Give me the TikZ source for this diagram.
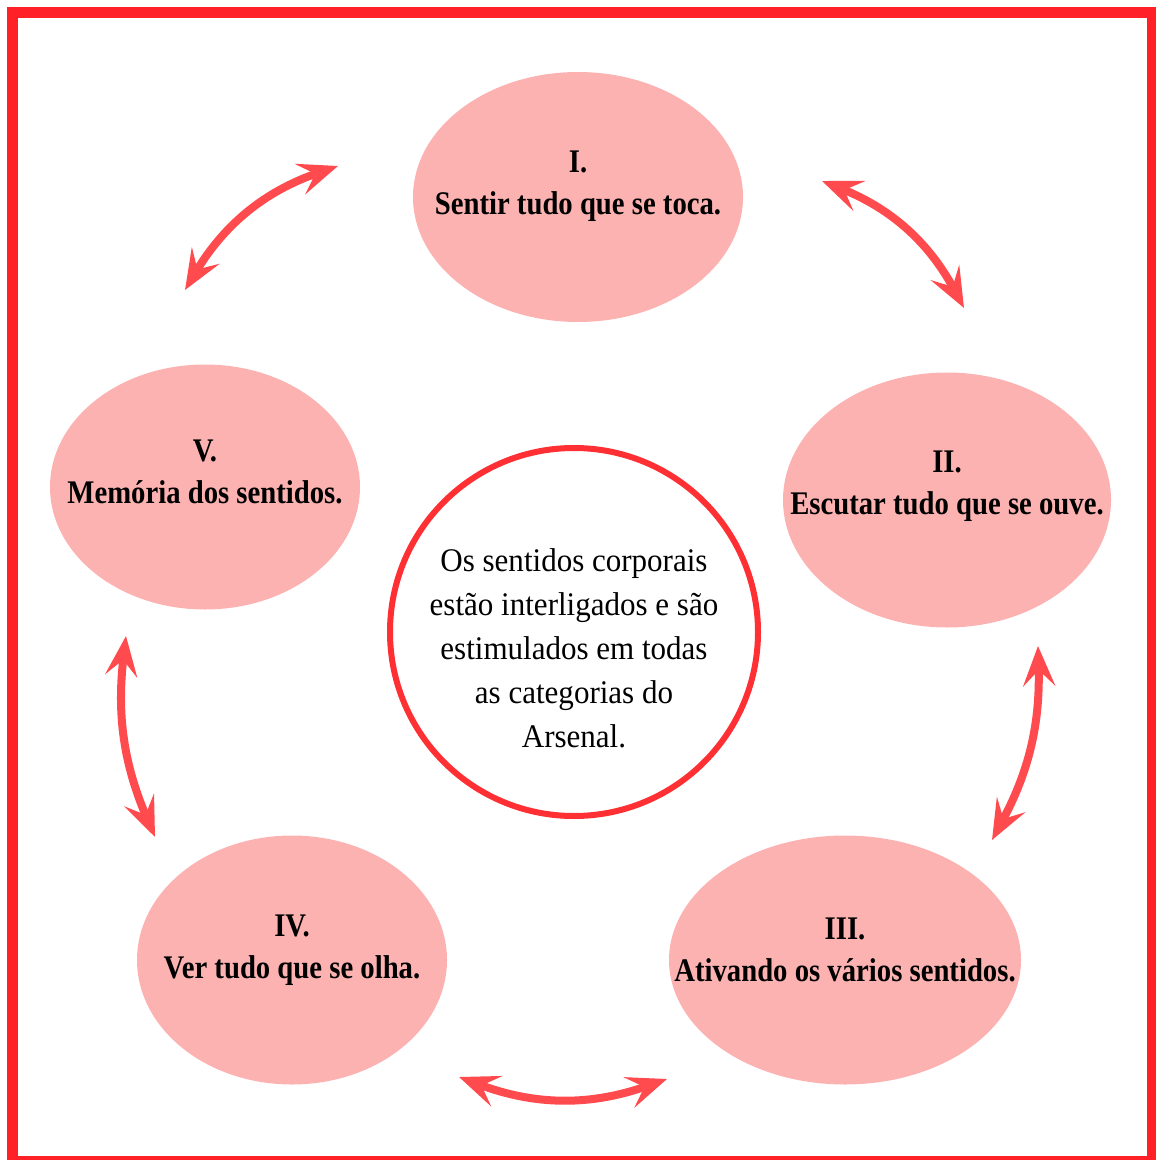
\documentclass[tikz,border=0pt]{standalone}
\usepackage{fontspec}
\setmainfont{Liberation Serif}
\newfontfamily\sensefont[FakeStretch=0.87]{Liberation Serif}
\newfontfamily\corefont[FakeStretch=0.94]{Liberation Serif}
\usetikzlibrary{shapes.geometric,arrows.meta}
\definecolor{framered}{RGB}{255,32,40}
\definecolor{arrowred}{RGB}{255,74,78}
\definecolor{sensepink}{RGB}{253,178,178}
\definecolor{ringred}{RGB}{255,48,52}

\begin{document}
\begin{tikzpicture}[x=0.5pt,y=-0.5pt,
  sense/.style={ellipse,fill=sensepink,inner sep=0pt},
  senselabel/.style={align=center,inner sep=0pt,font=\sensefont\bfseries\fontsize{16.5}{21}\selectfont},
  link/.style={arrowred,line width=4pt,line cap=round,
    arrows={Stealth[length=20pt,width=16pt,inset=8pt]-Stealth[length=20pt,width=16pt,inset=8pt]}}]
\useasboundingbox (0,0) rectangle (1155,1160);
\draw [framered,line width=5.5pt] (12,13) rectangle (1152,1161);
\node [sense,minimum width=165pt,minimum height=125pt] (s1) at (578,197) {};
\node [sense,minimum width=164pt,minimum height=127.5pt] (s2) at (947,500) {};
\node [sense,minimum width=176pt,minimum height=124.5pt] (s3) at (845,960) {};
\node [sense,minimum width=155pt,minimum height=124.5pt] (s4) at (292,960) {};
\node [sense,minimum width=155pt,minimum height=122.5pt] (s5) at (205,487) {};
\node [senselabel] (l1) at (578,186) {I.\\Sentir tudo que se toca.};
\node [senselabel] (l2) at (947,486) {II.\\Escutar tudo que se ouve.};
\node [senselabel] (l3) at (845,950) {III.\\Ativando os vários sentidos.};
\node [senselabel] (l4) at (292,950) {IV.\\Ver tudo que se olha.};
\node [senselabel] (l5) at (205,472) {V.\\Memória dos sentidos.};
\node [circle,draw=ringred,line width=3pt,fill=white,minimum size=184pt,inner sep=0pt] (hub) at (574,632) {};
\node [align=center,inner sep=0pt,font=\corefont\fontsize{16.5}{22}\selectfont] (hubtext) at (574,648)
  {Os sentidos corporais\\estão interligados e são\\estimulados em todas\\as categorias do\\Arsenal.};
\coordinate (a1) at (185,290);
\coordinate (b1) at (338,166);
\coordinate (a2) at (822,181);
\coordinate (b2) at (964,308);
\coordinate (a3) at (1038,646);
\coordinate (b3) at (992,840);
\coordinate (a4) at (459,1077);
\coordinate (b4) at (667,1079);
\coordinate (a5) at (126,636);
\coordinate (b5) at (155,837);
\draw [link] (a1) to [bend left=20] (b1);
\draw [link] (a2) to [bend left=20] (b2);
\draw [link] (a3) to [bend left=15] (b3);
\draw [link] (a4) to [bend right=20] (b4);
\draw [link] (a5) to [bend right=15] (b5);
\end{tikzpicture}
\end{document}
